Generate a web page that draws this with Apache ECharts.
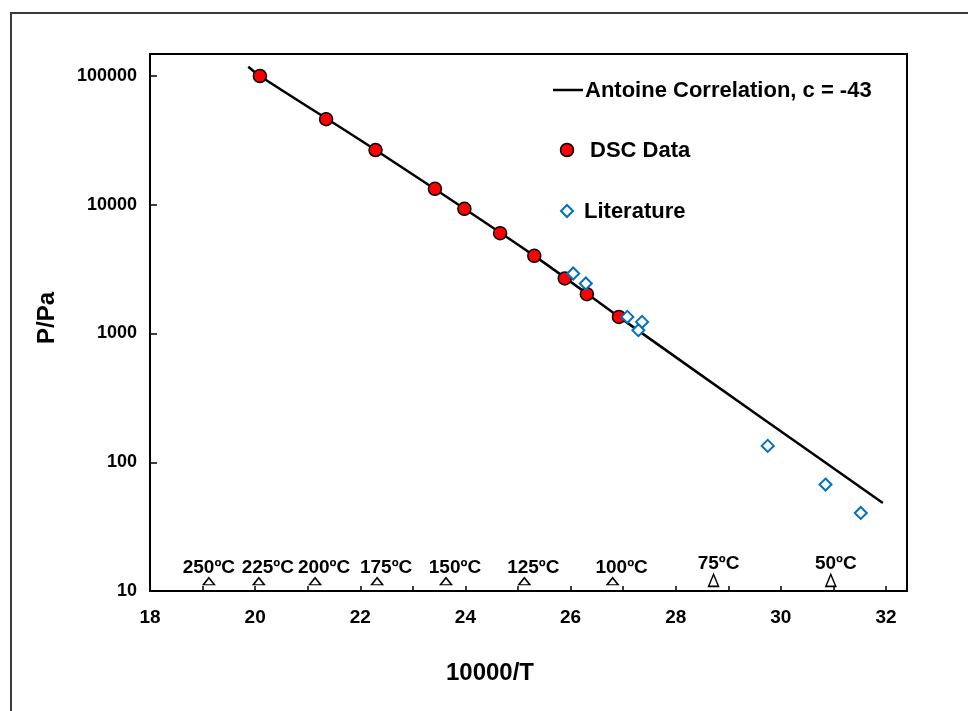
<!DOCTYPE html>
<html>
<head>
<meta charset="utf-8">
<script src="https://cdn.jsdelivr.net/npm/echarts@6/dist/echarts.min.js"></script>
<style>
  html, body { margin: 0; padding: 0; background: #fff; }
  #chart { width: 968px; height: 711px; }
</style>
</head>
<body>
<div id="chart"></div>
<script>
// Vapour pressure vs reciprocal temperature (x = 10000/T, y = P in Pa, log scale)

// Antoine correlation curve, c = -43
const antoineX = [19.87, 20.09, 22.29, 25.31, 26.92, 29.70, 31.94];
const antoineP = [117900, 100000, 26600, 4010, 1346, 212, 48.3];

// DSC measurements
const dscX = [20.09, 21.35, 22.29, 23.42, 23.98, 24.66, 25.31, 25.89, 26.31, 26.92];
const dscP = [100000, 46200, 26600, 13300, 9290, 6020, 4010, 2675, 2020, 1346];

// Literature values
const litX = [26.05, 26.29, 27.08, 27.36, 27.29, 29.75, 30.85, 31.52];
const litP = [2926, 2447, 1346, 1231, 1061, 134, 67.1, 40.4];

// Temperature reference markers along the bottom
const tempLabels = ['250ºC', '225ºC', '200ºC', '175ºC', '150ºC', '125ºC', '100ºC', '75ºC', '50ºC'];
const tempX = [19.12, 20.07, 21.14, 22.32, 23.63, 25.12, 26.80, 28.72, 30.95];
const tempP = [11.9, 11.9, 11.9, 11.9, 11.9, 11.9, 11.9, 12.1, 12.1];

// Axis ticks
const xTicks = [18, 20, 22, 24, 26, 28, 30, 32];
const yTicks = [10, 100, 1000, 10000, 100000];

// Legend entries
const legendNames = ['Antoine Correlation, c = -43', 'DSC Data', 'Literature'];

const FONT = '"Liberation Sans", Arial, sans-serif';

const zip = (xs, ys) => xs.map((x, i) => [x, ys[i]]);

const chart = echarts.init(document.getElementById('chart'), null, { renderer: 'canvas' });

const legendText = (text, x, y) => ({
  type: 'text',
  x: x,
  y: y,
  style: { text: text, fill: '#000', font: 'bold 22px ' + FONT, align: 'left', verticalAlign: 'middle' },
  silent: true,
  z: 10
});

// temperature labels sit slightly right of their markers, except the first
const tempLabelShift = i => (i === 0 ? 0 : (i >= 7 ? 5 : 9));

chart.setOption({
  animation: false,
  backgroundColor: '#fff',
  grid: { left: 150, right: 82, top: 76, bottom: 120, containLabel: false },
  xAxis: {
    type: 'value',
    min: xTicks[0],
    max: xTicks[xTicks.length - 1],
    interval: 1,
    splitLine: { show: false },
    axisLine: { show: true, onZero: false, lineStyle: { color: '#000', width: 2 } },
    axisTick: { show: true, inside: true, length: 5, lineStyle: { color: '#000', width: 1.5 } },
    axisLabel: {
      margin: 17,
      color: '#000',
      fontFamily: FONT,
      fontWeight: 'bold',
      fontSize: 19,
      formatter: v => (xTicks.indexOf(v) >= 0 ? String(v) : '')
    }
  },
  yAxis: {
    type: 'log',
    logBase: 10,
    min: yTicks[0],
    max: yTicks[yTicks.length - 1],
    splitLine: { show: false },
    axisLine: { show: true, lineStyle: { color: '#000', width: 2 } },
    axisTick: { show: true, inside: true, length: 7, lineStyle: { color: '#000', width: 1.5 } },
    axisLabel: {
      margin: 13,
      color: '#000',
      fontFamily: FONT,
      fontWeight: 'bold',
      fontSize: 18,
      formatter: v => String(Math.round(v))
    }
  },
  series: [
    {
      name: legendNames[0],
      type: 'line',
      data: zip(antoineX, antoineP),
      symbol: 'none',
      smooth: 0.3,
      clip: false,
      lineStyle: { color: '#000', width: 2.5 },
      itemStyle: { color: '#000' },
      z: 2
    },
    {
      name: legendNames[1],
      type: 'scatter',
      data: zip(dscX, dscP),
      symbol: 'circle',
      symbolSize: 13,
      itemStyle: { color: '#FF0000', borderColor: '#000', borderWidth: 1.5, opacity: 1 },
      z: 3
    },
    {
      name: legendNames[2],
      type: 'scatter',
      data: zip(litX, litP),
      symbol: 'diamond',
      symbolSize: 12,
      itemStyle: { color: '#fff', borderColor: '#0070C0', borderWidth: 2, opacity: 1 },
      z: 4
    },
    {
      name: 'temperatures',
      type: 'scatter',
      data: tempX.map((x, i) => ({ value: [x, tempP[i]], name: tempLabels[i] })),
      symbol: 'triangle',
      symbolSize: (v, p) => (p.dataIndex >= 7 ? [10, 12] : [11, 7]),
      itemStyle: { color: '#fff', borderColor: '#000', borderWidth: 1.5, opacity: 1 },
      label: {
        show: true,
        position: 'top',
        distance: 0,
        formatter: p => p.name,
        color: '#000',
        fontFamily: FONT,
        fontWeight: 'bold',
        fontSize: 19
      },
      labelLayout: p => ({ dx: tempLabelShift(p.dataIndex), hideOverlap: false }),
      z: 5
    }
  ],
  graphic: [
    {
      type: 'rect',
      shape: { x: 11, y: 13, width: 1000, height: 800 },
      style: { fill: 'none', stroke: '#3a3a3a', lineWidth: 2 },
      silent: true,
      z: 0
    },
    {
      type: 'rect',
      shape: { x: 150, y: 54, width: 757, height: 537 },
      style: { fill: 'none', stroke: '#000', lineWidth: 2 },
      silent: true,
      z: 1
    },
    // legend: Antoine line
    {
      type: 'line',
      shape: { x1: 553, y1: 90, x2: 583, y2: 90 },
      style: { stroke: '#000', lineWidth: 2.5 },
      silent: true,
      z: 10
    },
    legendText(legendNames[0], 585, 91),
    // legend: DSC circle
    {
      type: 'circle',
      shape: { cx: 567, cy: 150, r: 6.5 },
      style: { fill: '#FF0000', stroke: '#000', lineWidth: 1.5 },
      silent: true,
      z: 10
    },
    legendText(legendNames[1], 590, 151),
    // legend: literature diamond
    {
      type: 'polygon',
      shape: { points: [[567, 205], [573, 211], [567, 217], [561, 211]] },
      style: { fill: '#fff', stroke: '#0070C0', lineWidth: 2 },
      silent: true,
      z: 10
    },
    legendText(legendNames[2], 584, 212),
    // axis titles
    {
      type: 'text',
      x: 490,
      y: 673,
      style: { text: '10000/T', fill: '#000', font: 'bold 24px ' + FONT, align: 'center', verticalAlign: 'middle' }
    },
    {
      type: 'text',
      x: 47,
      y: 318,
      rotation: Math.PI / 2,
      style: { text: 'P/Pa', fill: '#000', font: 'bold 24px ' + FONT, align: 'center', verticalAlign: 'middle' }
    }
  ]
});
</script>
</body>
</html>
